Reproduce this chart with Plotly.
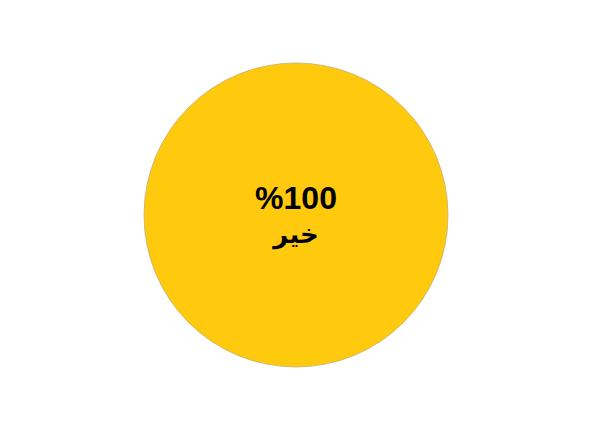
import plotly.graph_objects as go

labels = ["خير"]
values = [100]
colors = ["#FFC90E"]

total = sum(values)
pct_text = ["%" + str(round(v / total * 100)) for v in values]

fig = go.Figure(go.Pie(
    labels=labels,
    values=values,
    text=pct_text,
    texttemplate="<span style='font-size:32px'><b>%{text}</b></span><br><b>%{label}</b>",
    textposition="inside",
    insidetextorientation="horizontal",
    marker=dict(colors=colors, line=dict(color="rgba(190,170,110,0.7)", width=1)),
    textfont=dict(family="Liberation Sans, Arial, DejaVu Sans, sans-serif", size=26, color="black"),
    sort=False,
    direction="clockwise",
    hoverinfo="label+percent",
))

fig.update_layout(
    width=600,
    height=438,
    margin=dict(l=0, r=24, t=55, b=79),
    showlegend=False,
    paper_bgcolor="white",
    plot_bgcolor="white",
)

fig.write_html("out.html")
